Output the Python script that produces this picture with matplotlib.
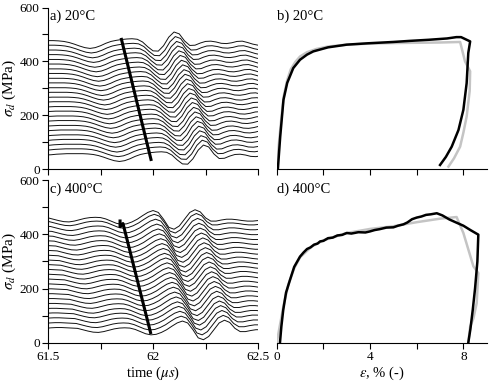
import numpy as np
import matplotlib
matplotlib.use('Agg')
import matplotlib.pyplot as plt
import matplotlib.transforms as mtransforms

plt.rcParams['font.family'] = ['Liberation Serif', 'DejaVu Serif']
plt.rcParams['mathtext.fontset'] = 'stix'
plt.rcParams['font.size'] = 9.5

# --- wave records: one pulse shape (time after pick, stress change) per panel
tau = [-0.500, -0.475, -0.450, -0.425, -0.400, -0.375, -0.350, -0.325, -0.300, -0.275,
       -0.250, -0.225, -0.200, -0.175, -0.150, -0.125, -0.100, -0.075, -0.050, -0.025,
       0.000, 0.025, 0.050, 0.075, 0.100, 0.125, 0.150, 0.175, 0.200, 0.225,
       0.250, 0.275, 0.300, 0.325, 0.350, 0.375, 0.400, 0.425, 0.450, 0.475,
       0.500, 0.525, 0.550, 0.575, 0.600, 0.625, 0.650, 0.675]

pulse_20 = [0, 1, 3, 4, 5, 5, 5, 5, 4, 2,
            -2, -8, -15, -21, -24, -21, -14, -5, 2, 6,
            9, 11, 12, 10, 0, -18, -33, -34, -14, 18,
            37, 30, 4, -13, -12, -4, 2, 3, 0, -5,
            -6, -3, 2, 3, -2, -8, -12, -12]

pulse_400 = [0, 2, 3, 3, 2, 1, 0, -5, -10, -14,
             -15, -12, -7, -2, 1, 2, 1, -4, -12, -20,
             -24, -22, -15, -5, 8, 20, 27, 20, -5, -35,
             -42, -30, -5, 20, 30, 22, 0, -12, -12, -8,
             -5, -5, -7, -10, -12, -12, -10, -9]

base_20 = [52, 70, 87, 105, 122, 140, 157, 175, 192, 210, 227, 245, 262,
           280, 297, 315, 332, 350, 367, 385, 402, 420, 437, 455, 472]
pick_20 = [61.990, 61.984, 61.978, 61.972, 61.967, 61.961, 61.955, 61.949,
           61.943, 61.937, 61.932, 61.926, 61.920, 61.914, 61.908, 61.902,
           61.897, 61.891, 61.885, 61.879, 61.873, 61.867, 61.862, 61.856, 61.850]

base_400 = [53, 71, 89, 107, 124, 142, 160, 178, 196, 214, 232, 250,
            268, 286, 303, 321, 339, 357, 375, 393, 411, 429, 447, 461]
pick_400 = [61.990, 61.984, 61.978, 61.972, 61.966, 61.960, 61.953, 61.947,
            61.941, 61.935, 61.929, 61.923, 61.917, 61.911, 61.905, 61.899,
            61.893, 61.887, 61.880, 61.874, 61.868, 61.862, 61.856, 61.850]

pick_line_20_t = [61.848, 61.992]
pick_line_20_s = [487, 30]
pick_line_400_t = [61.843, 61.843, 61.857, 61.990]
pick_line_400_s = [455, 428, 440, 32]

# --- stress-strain curves
eps_b_exp = [0.05, 0.15, 0.29, 0.45, 0.71, 1.0, 1.3, 1.57, 2.2, 3.0, 3.9, 5.0, 5.7,
             6.5, 7.3, 7.7, 7.9, 8.29, 8.21, 8.14, 8.0, 7.79, 7.5, 7.25, 7.0]
sig_b_exp = [0, 120, 257, 320, 375, 406, 425, 437, 452, 462, 467, 472, 476,
             480, 485, 490, 490, 474, 431, 319, 220, 145, 83, 45, 15]
eps_b_sim = [0.0, 0.1, 0.2, 0.3, 0.45, 0.6, 0.8, 1.0, 1.3, 1.7, 2.2, 3.0, 4.0,
             5.0, 6.0, 7.0, 7.86, 8.07, 8.29, 8.27, 8.14, 8.0, 7.86, 7.6, 7.36]
sig_b_sim = [0, 100, 190, 270, 330, 370, 398, 418, 434, 446, 455, 462, 466,
             468, 469, 470, 472, 400, 363, 290, 195, 135, 83, 40, 9]

eps_d_exp = [0.14, 0.2, 0.28, 0.4, 0.57, 0.75, 1.0, 1.15, 1.3, 1.45, 1.6, 1.75, 1.86,
             2.0, 2.2, 2.4, 2.6, 2.8, 3.0, 3.2, 3.5, 3.8, 4.0, 4.2, 4.4, 4.7,
             5.0, 5.2, 5.43, 5.6, 5.8, 6.0, 6.2, 6.4, 6.6, 6.86, 7.1, 7.4, 7.71,
             8.0, 8.3, 8.64, 8.6, 8.5, 8.4, 8.3, 8.21]
sig_d_exp = [0, 60, 121, 185, 232, 280, 318, 333, 346, 352, 362, 366, 374,
             376, 386, 388, 396, 398, 405, 403, 408, 407, 411, 416, 419, 425,
             426, 432, 437, 444, 456, 462, 466, 472, 474, 478, 470, 455, 443,
             432, 416, 399, 300, 200, 120, 50, 0]
eps_d_sim = [0.0, 0.15, 0.3, 0.5, 0.75, 1.0, 1.5, 2.0, 3.0, 4.0, 5.0, 6.0, 7.0,
             7.71, 8.0, 8.43, 8.64, 8.57, 8.43, 8.29, 8.21]
sig_d_sim = [0, 70, 140, 215, 275, 315, 355, 378, 405, 420, 430, 445, 458,
             464, 405, 282, 257, 146, 90, 59, 0]

fig = plt.figure(figsize=(4.9, 3.83), dpi=100)
ax_a = fig.add_axes([0.098, 0.5587, 0.4286, 0.4217])
ax_b = fig.add_axes([0.5647, 0.5587, 0.4286, 0.4217])
ax_c = fig.add_axes([0.098, 0.1052, 0.4286, 0.4243])
ax_d = fig.add_axes([0.5647, 0.1052, 0.4286, 0.4243])

tau = np.array(tau)
for ax, pulse, base, pick, pt, ps, title in [
        (ax_a, pulse_20, base_20, pick_20, pick_line_20_t, pick_line_20_s, 'a) 20°C'),
        (ax_c, pulse_400, base_400, pick_400, pick_line_400_t, pick_line_400_s, 'c) 400°C')]:
    for b, p in zip(base, pick):
        ax.plot(tau + p, np.array(pulse) + b, color='#111111', lw=0.7)
    ax.plot(pt, ps, color='black', lw=2.2, solid_capstyle='butt')
    ax.set_xlim(61.5, 62.5)
    ax.set_ylim(0, 600)
    ax.set_xticks([61.5, 61.75, 62, 62.25, 62.5])
    ax.set_yticks([0, 100, 200, 300, 400, 500, 600])
    ax.set_yticklabels(['0', '', '200', '', '400', '', '600'])
    ax.set_ylabel(r'$\sigma_d$ (MPa)', fontsize=11)
    ax.yaxis.set_label_coords(-0.145, 0.5)
    ax.text(0.01, 0.985, title, transform=ax.transAxes, va='top', ha='left', fontsize=10.5)

# keep the "0" of the top panel clear of the "600" below it
zero_lab = ax_a.get_yticklabels()[0]
zero_lab.set_transform(zero_lab.get_transform() +
                       mtransforms.ScaledTranslation(0, 2 / 72, fig.dpi_scale_trans))
top_lab = ax_c.get_yticklabels()[-1]
top_lab.set_transform(top_lab.get_transform() +
                      mtransforms.ScaledTranslation(0, -1.5 / 72, fig.dpi_scale_trans))

ax_a.set_xticklabels([])
ax_c.set_xticklabels(['61.5', '', '62', '', '62.5'])
ax_c.set_xlabel(r'time ($\mu s$)', labelpad=1, fontsize=10.5)

gray = '#c4c4c4'
for ax, es, ss, ee, se, title in [
        (ax_b, eps_b_sim, sig_b_sim, eps_b_exp, sig_b_exp, 'b) 20°C'),
        (ax_d, eps_d_sim, sig_d_sim, eps_d_exp, sig_d_exp, 'd) 400°C')]:
    ax.plot(es, ss, color=gray, lw=1.8)
    ax.plot(ee, se, color='black', lw=1.8)
    ax.set_xlim(0, 9)
    ax.set_ylim(0, 600)
    ax.set_xticks([0, 2, 4, 6, 8])
    ax.set_yticks([])
    ax.spines['left'].set_visible(False)
    ax.text(0.0, 0.985, title, transform=ax.transAxes, va='top', ha='left', fontsize=10.5)

ax_b.set_xticklabels([])
ax_d.set_xticklabels(['0', '', '4', '', '8'])
ax_d.set_xlabel(r'$\varepsilon$, % (-)', labelpad=1, fontsize=10.5)

for ax in [ax_a, ax_b, ax_c, ax_d]:
    ax.spines['top'].set_visible(False)
    ax.spines['right'].set_visible(False)
    ax.tick_params(direction='out', length=4, width=0.8, pad=2)
    for s in ax.spines.values():
        s.set_linewidth(0.8)
    ax.patch.set_visible(False)

fig.savefig('out.png', dpi=100)
